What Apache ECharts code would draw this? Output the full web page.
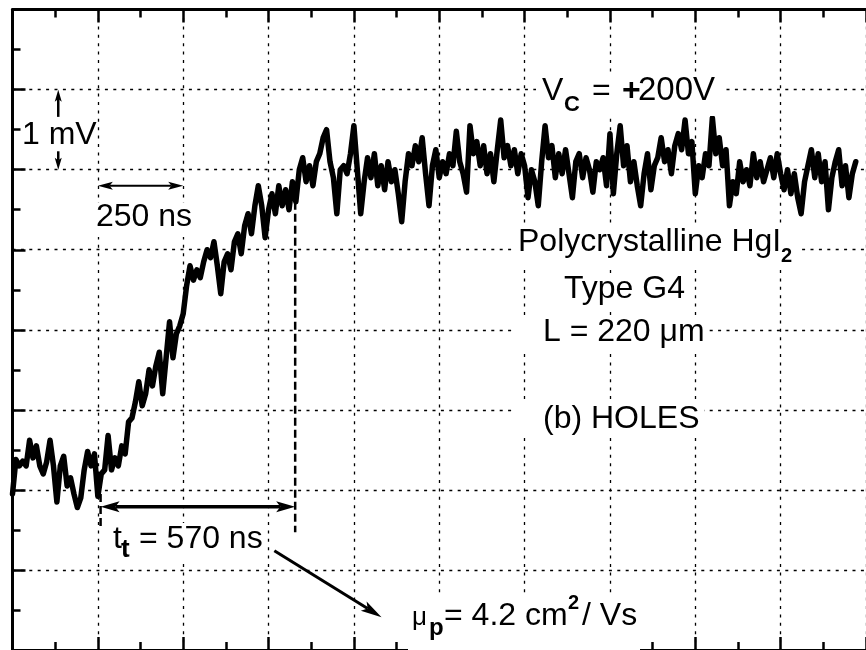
<!DOCTYPE html>
<html>
<head>
<meta charset="utf-8">
<script src="https://cdn.jsdelivr.net/npm/echarts@6/dist/echarts.min.js"></script>
<style>
  html, body { margin: 0; padding: 0; background: #fff; }
  #chart { width: 866px; height: 650px; }
</style>
</head>
<body>
<div id="chart"></div>
<script>
// Transient hole current, one sample every 10 ns (mV, arbitrary offset)
const sampleIntervalNs = 10;
const signalMv = [
  1.95, 2.38, 2.30, 2.36, 2.30, 2.62, 2.40, 2.55, 2.30, 2.20,
  2.35, 2.62, 2.30, 1.85, 2.30, 2.42, 2.05, 2.15, 1.95, 1.78,
  1.90, 2.25, 2.48, 2.30, 2.45, 1.92, 2.20, 2.25, 2.68, 2.25,
  2.40, 2.30, 2.55, 2.45, 2.85, 2.90, 3.10, 3.35, 3.05, 3.20,
  3.50, 3.30, 3.55, 3.72, 3.20, 3.65, 4.10, 3.65, 3.95, 4.05,
  4.20, 4.55, 4.80, 4.62, 4.75, 4.65, 4.85, 5.00, 4.90, 5.10,
  4.80, 4.45, 4.85, 4.95, 4.75, 5.10, 5.20, 4.95, 5.30, 5.45,
  5.20, 5.55, 5.80, 5.55, 5.15, 5.50, 5.70, 5.45, 5.80, 5.55,
  5.75, 5.50, 5.85, 5.60, 6.00, 6.15, 5.85, 6.05, 5.80, 6.10,
  6.20, 6.40, 6.50, 6.10, 5.90, 5.45, 6.00, 6.05, 5.95, 6.20,
  6.55, 6.00, 5.45, 5.85, 6.15, 5.90, 6.20, 5.80, 6.05, 5.75,
  6.10, 5.85, 6.00, 5.70, 5.35, 5.85, 6.20, 6.05, 6.30, 6.10,
  6.40, 5.95, 5.55, 6.05, 6.25, 5.90, 6.10, 5.95, 6.20, 6.05,
  6.48, 6.10, 5.95, 5.72, 6.55, 6.20, 6.35, 6.05, 6.30, 5.95,
  6.20, 5.85, 6.25, 6.62, 6.15, 6.30, 6.05, 6.25, 5.95, 6.20,
  6.05, 5.65, 6.00, 5.85, 5.55, 6.10, 6.55, 6.15, 6.30, 5.90,
  6.20, 5.95, 6.25, 5.95, 5.65, 6.10, 6.20, 5.90, 6.15, 6.00,
  5.72, 6.10, 6.00, 6.15, 5.80, 6.45, 5.70, 6.20, 6.55, 6.05,
  6.30, 5.85, 6.10, 5.80, 5.55, 5.95, 6.20, 5.75, 6.05, 6.15,
  6.40, 6.10, 6.25, 5.95, 6.30, 6.45, 6.25, 6.62, 6.20, 6.35,
  5.70, 6.05, 5.90, 6.20, 6.05, 6.65, 6.20, 6.40, 6.05, 6.25,
  5.55, 5.85, 5.70, 6.10, 5.85, 6.00, 5.80, 6.20, 5.90, 6.10,
  5.85, 6.00, 6.15, 5.90, 6.20, 5.95, 5.75, 6.00, 5.70, 5.95,
  5.65, 5.45, 5.85, 6.05, 6.25, 5.90, 6.20, 5.85, 6.10, 5.50,
  5.90, 6.10, 6.25, 5.80, 6.05, 5.65, 5.95, 6.10
];

// Scope graticule: 250 ns / div horizontally, 1 mV / div vertically
const timeDivNs = 250;
const timeSpanNs = [0, 2500];
const voltDivMv = 1;
const voltSpanMv = [0, 8];

// Measured quantities shown on the plot
const scaleBarTimeNs = [250, 500];      // "250 ns" marker
const scaleBarVoltMv = [6, 7];          // "1 mV" marker
const transitStartNs = 258;
const transitTimeNs = 570;              // t_t
const FONT = '"Liberation Sans", Arial, Helvetica, sans-serif';

const chart = echarts.init(document.getElementById('chart'), null, { renderer: 'canvas' });

const axisBase = {
  type: 'value',
  axisLine: { show: true, onZero: false, lineStyle: { color: '#000', width: 3 } },
  axisTick: { show: true, inside: true, length: 13, lineStyle: { color: '#000', width: 2.5 } },
  minorTick: { show: true, splitNumber: 2, length: 8, lineStyle: { color: '#000', width: 2.5 } },
  axisLabel: { show: false },
  splitLine: { show: false },
  minorSplitLine: { show: false }
};
const gridDots = { show: true, lineStyle: { color: '#000', width: 1.3, type: [3, 5.4] } };

chart.setOption({
  animation: false,
  backgroundColor: '#fff',
  grid: { left: 12.5, top: 9.6, width: 868, height: 643, containLabel: false },
  xAxis: [
    Object.assign({}, axisBase, { position: 'bottom', min: timeSpanNs[0], max: timeSpanNs[1], interval: timeDivNs, splitLine: gridDots }),
    Object.assign({}, axisBase, { position: 'top', min: timeSpanNs[0], max: timeSpanNs[1], interval: timeDivNs })
  ],
  yAxis: [
    Object.assign({}, axisBase, { position: 'left', min: voltSpanMv[0], max: voltSpanMv[1], interval: voltDivMv, splitLine: gridDots })
  ],
  series: [{
    type: 'line',
    xAxisIndex: 0,
    yAxisIndex: 0,
    data: signalMv.map((v, i) => [i * sampleIntervalNs, v]),
    showSymbol: false,
    symbol: 'none',
    clip: true,
    lineStyle: { color: '#000', width: 5.5, join: 'round', cap: 'round' },
    z: 3
  }]
});

const toPx = (p) => chart.convertToPixel({ gridIndex: 0 }, p);

// Arrow with filled notched head(s), endpoints given in data units
function arrow(from, to, o) {
  const p0 = toPx(from), p1 = toPx(to);
  const dx = p1[0] - p0[0], dy = p1[1] - p0[1];
  const len = Math.hypot(dx, dy);
  const ux = dx / len, uy = dy / len, nx = -uy, ny = ux;
  const L = o.head, W = o.headW / 2, N = L * 0.78;
  const head = (tip, sx, sy) => ({
    type: 'polygon', z: 12,
    shape: { points: [
      tip,
      [tip[0] - sx * L + nx * W, tip[1] - sy * L + ny * W],
      [tip[0] - sx * N, tip[1] - sy * N],
      [tip[0] - sx * L - nx * W, tip[1] - sy * L - ny * W]
    ] },
    style: { fill: '#000' }
  });
  const a = o.both ? [p0[0] + ux * N, p0[1] + uy * N] : p0;
  const b = [p1[0] - ux * N, p1[1] - uy * N];
  const els = [{
    type: 'line', z: 12,
    shape: { x1: a[0], y1: a[1], x2: b[0], y2: b[1] },
    style: { stroke: '#000', lineWidth: o.width }
  }, head(p1, ux, uy)];
  if (o.both) els.push(head(p0, -ux, -uy));
  return els;
}

function dashed(from, to) {
  const p0 = toPx(from), p1 = toPx(to);
  return {
    type: 'line', z: 12,
    shape: { x1: p0[0], y1: p0[1], x2: p1[0], y2: p1[1] },
    style: { stroke: '#000', lineWidth: 2.5, lineDash: [8, 4] }
  };
}

// Text piece placed by its left edge and alphabetic baseline
function txt(x, baseline, str, size, bold) {
  return {
    type: 'text', z: 14, x: x, y: baseline - 0.3465 * size,
    style: {
      text: str, fill: '#000',
      font: (bold ? 'bold ' : '') + size + 'px ' + FONT,
      align: 'left', verticalAlign: 'middle',
      textAlign: 'left', textVerticalAlign: 'middle'
    }
  };
}
function box(x, y, w, h) {
  return { type: 'rect', z: 11, shape: { x: x, y: y, width: w, height: h }, style: { fill: '#fff' } };
}

const graphics = [];
// label backgrounds
graphics.push(
  box(536, 72, 190, 44),
  box(95, 203, 99, 34),
  box(515, 226, 283, 40),
  box(561, 275, 126, 33),
  box(515, 320, 190, 33),
  box(515, 404, 189, 34),
  box(110, 523, 155, 40),
  box(408, 596, 232, 54)
);

// scale markers
graphics.push(...arrow([scaleBarTimeNs[0], 5.8], [scaleBarTimeNs[1], 5.8], { width: 2, head: 15, headW: 8, both: true }));
graphics.push(...arrow([134, 6.66], [134, scaleBarVoltMv[1]], { width: 2.5, head: 12, headW: 7 }));
graphics.push(...arrow([134, 6.23], [134, scaleBarVoltMv[0]], { width: 2.5, head: 12, headW: 7 }));

// transit time
const transitEndNs = transitStartNs + transitTimeNs;
graphics.push(dashed([transitEndNs, 5.6], [transitEndNs, 1.47]));
graphics.push(dashed([transitStartNs, 1.95], [transitStartNs, 1.5]));
graphics.push(...arrow([transitStartNs, 1.79], [transitEndNs, 1.79], { width: 3.5, head: 19, headW: 11, both: true }));
graphics.push(...arrow([767, 1.24], [1081, 0.41], { width: 3, head: 21, headW: 11 }));

// texts
const F = 32;
graphics.push(
  txt(22, 146, '1 mV', F),
  txt(96, 228, '250 ns', F),

  txt(542, 102, 'V', F),
  txt(564, 113, 'C', 22, true),
  txt(592, 102, '=', F),
  txt(622, 102, '+', F, true),
  txt(638, 102, '200V', 33),

  txt(518, 253, 'Polycrystalline HgI', F),
  txt(781, 263, '2', 20, true),
  txt(564, 300, 'Type G4', F),
  txt(543, 343, 'L = 220 \u03bcm', F),
  txt(543, 430, '(b) HOLES', F),

  txt(113, 550, 't', F),
  txt(121, 559, 't', 26, true),
  txt(139, 550, '= 570 ns', F),

  txt(412, 627, '\u03bc', 26),
  txt(429, 637, 'p', 24, true),
  txt(444, 627, '= 4.2 cm', F),
  txt(568, 610, '2', 20, true),
  txt(582, 627, '/ Vs', F)
);

chart.setOption({ graphic: { elements: graphics } });
</script>
</body>
</html>
